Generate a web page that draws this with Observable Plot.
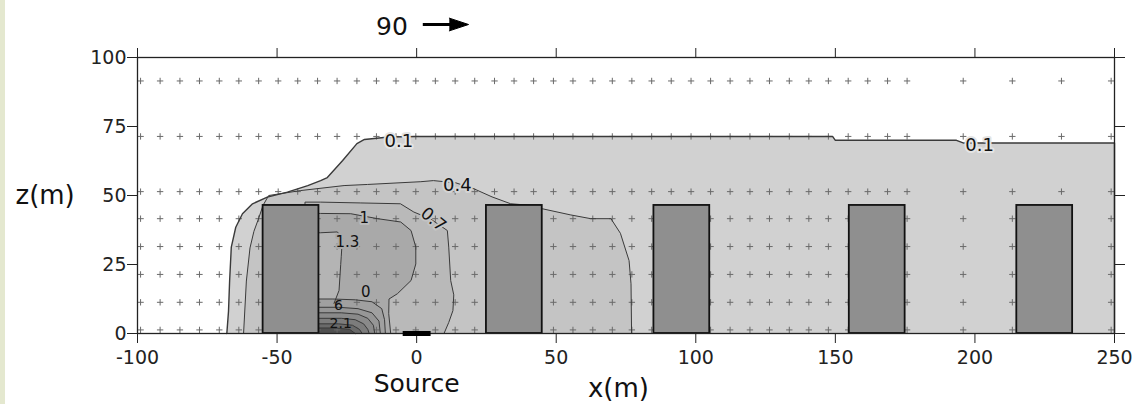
<!DOCTYPE html>
<html><head><meta charset="utf-8">
<script src="https://cdn.jsdelivr.net/npm/d3@7"></script>
<script src="https://cdn.jsdelivr.net/npm/@observablehq/plot@0.6"></script>
<style>
body{margin:0;background:#fff;}
#chart{position:absolute;left:0;top:0;}
#strip{position:absolute;left:0;top:0;width:5px;height:404px;background:#e4e8cf;}
</style></head><body><div id="chart"></div><div id="strip"></div>
<script>
// ---- data ----
const xTicks = [-100, -50, 0, 50, 100, 150, 200, 250];
const zTicks = [0, 25, 50, 75, 100];

const buildingLeft  = [-55, 25, 85, 155, 215];
const buildingRight = [-35, 45, 105, 175, 235];
const buildingHeight = 46.4;

const sourceX = [-5, 5];

const refArrowLabel = "90";
const refArrowX = [2.2, 18.6];

const gridX = [-98.9,-91.9,-84.8,-77.8,-70.7,-63.7,-56.6,-49.6,-42.6,-35.5,-28.5,-21.4,-14.4,-7.4,-0.3,
  6.7,13.8,20.8,27.9,34.9,41.9,49.0,56.0,63.1,70.1,77.1,84.2,91.2,98.3,105.3,112.3,119.4,126.4,133.5,
  140.5,147.5,154.6,161.6,168.7,175.7,195.8,213.4,231.0,248.8];
const gridZ = [91.5, 71.4, 51.4, 41.6, 31.5, 21.4, 11.3, 1.3];

const contour01 = [[-68,0],[-67.4,8],[-67,19],[-66.4,31.3],[-64.8,38.5],[-62.4,43.4],[-58.8,47],[-53.5,49.4],
  [-46.3,51.2],[-39,53.6],[-34.4,55.4],[-32,56.5],[-26.5,62.7],[-21.4,68.8],[-18.7,70.3],[-10,71.2],[0,71.4],
  [149,71.4],[150,70],[193.4,70],[196,69],[250,69],[250,0]];
const contour04 = [[-62,0],[-61,19],[-59.7,31],[-58.3,37],[-56.5,42],[-55,46.5],[-53,50],[-41.5,51.8],[-26,53.6],
  [-17.6,54],[1.5,55],[6,55.4],[14,54.6],[20.6,52.4],[27,49.5],[33.7,47],[40,46.5],[45,45.2],[55,43],[62.4,41.6],
  [69.6,41.6],[73,36.3],[76.1,26.4],[76.8,18],[77,0]];
const contour07 = [[-40,0],[-40,47.6],[-34.4,47.6],[-20,47.3],[-5.8,47],[-1,44],[5,41.5],[11,37.3],[11.5,31.3],
  [12.2,19.2],[13.3,14],[13,8.3],[11.5,4],[9.8,0]];
const contour10 = [[-40,0],[-40,43.5],[-34.4,43.5],[-23.6,43.4],[-14,41.6],[-5.7,40.4],[-2,37.3],[-0.3,31.3],
  [-0.3,25.2],[-2,19.2],[-6.9,14.4],[-9.9,12.5],[-10,7.2],[-9.3,0]];
const contour13 = [[-40,10.9],[-40,36.5],[-34.4,36.5],[-28.4,36.8],[-26.6,34.5],[-27,28],[-27.2,25],[-27.8,15.6],
  [-29.6,10.9]];
const contour16 = [[-40,0],[-40,12.5],[-30,12.5],[-22,12.2],[-16,11.5],[-12.5,9],[-11.5,5],[-11.2,0]];
const contour19 = [[-40,0],[-40,9.5],[-28,9.5],[-21,9],[-16,7.5],[-13.5,4.5],[-13,0]];
const contour22 = [[-40,0],[-40,7.5],[-27,7.5],[-21,7],[-17.5,5.5],[-15.5,3],[-15,0]];
const contour25 = [[-40,0],[-40,5.5],[-27,5.5],[-22,5],[-19,3.5],[-17.5,1.5],[-17,0]];
const contour28 = [[-40,0],[-40,3.5],[-28,3.5],[-23,3],[-20.5,1.5],[-19.5,0]];
const contour31 = [[-40,0],[-40,2],[-29,2],[-24,1.5],[-22,0]];

const labelText   = ["0.1", "0.1", "0.4", "0.7", "1", "1.3", "0", "6", "2.1"];
const labelX      = [-6.4, 201.7, 14.6, 6, -18.8, -24.8, -18.2, -28, -27.2];
const labelZ      = [69.8, 68.1, 53.6, 41.3, 41.6, 33, 15, 10, 3.5];
const labelRotate = [0, 0, 0, 40, 0, 0, 0, 0, 0];
const labelHalo   = ["#e4e4e4", "#e4e4e4", "#d3d3d3", "#c4c4c4", "#b9b9b9", "#a9a9a9", "none", "none", "none"];
const labelSize   = [18, 18, 18, 17, 15, 15, 15, 14, 14];

// ---- build tables ----
const buildings = buildingLeft.map((l, i) => ({x1: l, x2: buildingRight[i]}));
const grid = gridZ.flatMap(z => gridX.map(x => ({x, z})));
const labels = labelText.map((t, i) => ({t, x: labelX[i], z: labelZ[i], r: labelRotate[i], h: labelHalo[i], s: labelSize[i]}));
const fills = [
  [contour01, "#d1d1d1"], [contour04, "#c4c4c4"], [contour07, "#b9b9b9"], [contour10, "#a9a9a9"],
  [contour13, "#b4b4b4"], [contour16, "#a0a0a0"], [contour19, "#969696"], [contour22, "#8a8a8a"],
  [contour25, "#7c7c7c"], [contour28, "#6a6a6a"], [contour31, "#505050"]
];
const X = d => d[0], Z = d => d[1];

const font = "DejaVu Sans, Verdana, sans-serif";
const marks = [];
for (const [poly, color] of fills) marks.push(Plot.line(poly, {x: X, y: Z, fill: color, stroke: "none"}));
marks.push(Plot.dot(grid, {x: "x", y: "z", symbol: "plus", r: 2.2, fill: "none", stroke: "#6a6a6a", strokeWidth: 1}));
for (const [poly, color] of fills) marks.push(Plot.line(poly, {x: X, y: Z, stroke: "#3a3a3a", strokeWidth: poly === contour01 ? 1.4 : 1}));
marks.push(Plot.rect(buildings, {x1: "x1", x2: "x2", y1: 0, y2: buildingHeight, fill: "#8f8f8f", stroke: "#111", strokeWidth: 1.8}));
for (const lb of labels) {
  marks.push(Plot.text([lb], {x: "x", y: "z", text: "t", rotate: lb.r, fontSize: lb.s, fill: "#111",
    stroke: lb.h, strokeWidth: lb.h === "none" ? 0 : 4, fontFamily: font}));
}
marks.push(Plot.frame({stroke: "#222", strokeWidth: 1.3}));
marks.push(Plot.axisX({ticks: xTicks, tickSize: 10, tickPadding: 7, fontSize: 19, label: null, tickFormat: d => String(d), stroke: "#222"}));
marks.push(Plot.axisX({anchor: "top", ticks: xTicks, tickSize: 10, tickFormat: () => "", label: null, stroke: "#222"}));
marks.push(Plot.axisY({ticks: zTicks, tickSize: 10, tickPadding: 1, fontSize: 19, label: null, tickFormat: d => String(d), stroke: "#222"}));
marks.push(Plot.axisY({anchor: "right", ticks: zTicks, tickSize: 10, tickFormat: () => "", label: null, stroke: "#222"}));
marks.push(Plot.link([sourceX], {x1: d => d[0], x2: d => d[1], y1: 0, y2: 0, stroke: "#000", strokeWidth: 5}));
// titles
marks.push(Plot.text(["z(m)"], {frameAnchor: "left", y: 50, dx: -122, textAnchor: "start", lineAnchor: "middle", fontSize: 26, fontFamily: font, fill: "#111"}));
marks.push(Plot.text(["Source"], {frameAnchor: "bottom", x: 0, dy: 50, lineAnchor: "middle", fontSize: 25, fontFamily: font, fill: "#111"}));
marks.push(Plot.text(["x(m)"], {frameAnchor: "bottom", x: 72.3, dy: 55, lineAnchor: "middle", fontSize: 26, fontFamily: font, fill: "#111"}));
// reference vector
marks.push(Plot.text([refArrowLabel], {frameAnchor: "top", x: -8.85, dy: -31, lineAnchor: "middle", fontSize: 25, fontFamily: font, fill: "#111"}));
marks.push(Plot.link([refArrowX], {x1: d => d[0], x2: d => d[0] + (d[1] - d[0]) * 0.65, y1: 100, y2: 100, dy: -33, stroke: "#000", strokeWidth: 3}));
marks.push(Plot.line([[refArrowX[0] + (refArrowX[1]-refArrowX[0])*0.58, 102.3], [refArrowX[1], 100], [refArrowX[0] + (refArrowX[1]-refArrowX[0])*0.58, 97.7]],
  {x: X, y: Z, dy: -33, fill: "#000", stroke: "#000", strokeWidth: 1}));

const plot = Plot.plot({
  width: 1137, height: 404,
  marginLeft: 137, marginRight: 23, marginTop: 57, marginBottom: 71,
  x: {domain: [-100, 250]},
  y: {domain: [0, 100]},
  style: {fontFamily: font, background: "white", overflow: "visible", color: "#222"},
  marks
});
document.getElementById("chart").append(plot);
</script></body></html>
